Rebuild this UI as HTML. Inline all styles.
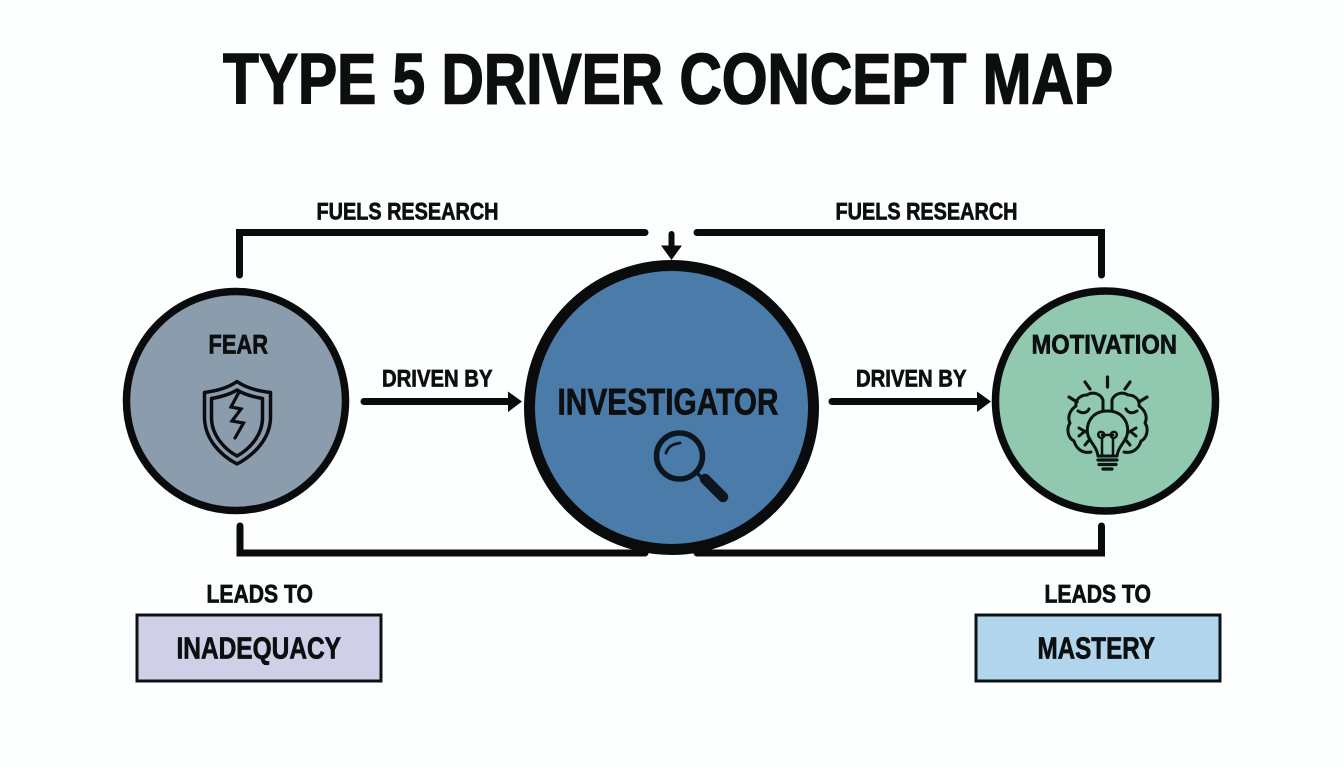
<!DOCTYPE html>
<html lang="en"><head><meta charset="utf-8"><title>Type 5 Driver Concept Map</title>
<style>html,body{margin:0;padding:0;background:#fdfefe}svg{display:block}
text{font-family:"Liberation Sans",sans-serif;font-weight:700;fill:#0c0e10;stroke:#0c0e10;stroke-width:.7px;paint-order:stroke}
text.t{stroke-width:1.6px}</style></head>
<body>
<svg width="1344" height="768" viewBox="0 0 1344 768" xmlns="http://www.w3.org/2000/svg">
<rect width="1344" height="768" fill="#fdfefe"/>
<text class="t" x="223" y="103.500" font-size="71" textLength="890" lengthAdjust="spacingAndGlyphs">TYPE 5 DRIVER CONCEPT MAP</text>

<g fill="none" stroke="#0a0b0d" stroke-width="7" stroke-linecap="round" stroke-linejoin="miter">
<path d="M239.500 275V232.500H645"/>
<path d="M697 232.500H1101.500V275"/>
<path d="M240 526V553H645"/>
<path d="M697 553H1101.500V526"/>
<path d="M671.500 234V248" stroke-width="6"/>
<path d="M364 401.500H510"/>
<path d="M832 401.500H979"/>
</g>
<g fill="#0a0b0d">
<path d="M661 245.500H682L671.500 260Z"/>
<path d="M508 391.500L522 401.500L508 412Z"/>
<path d="M977 391.500L991 401.500L977 412Z"/>
</g>

<circle cx="236" cy="401" r="109.500" fill="#8b9cad" stroke="#0a0b0d" stroke-width="7.500"/>
<circle cx="671.500" cy="407.500" r="142" fill="#4a7ba9" stroke="#0a0b0d" stroke-width="11"/>
<circle cx="1105.500" cy="401" r="110" fill="#90c9af" stroke="#0a0b0d" stroke-width="7.500"/>

<text x="316.500" y="219.500" font-size="24.500" textLength="182" lengthAdjust="spacingAndGlyphs">FUELS RESEARCH</text>
<text x="835.500" y="219.500" font-size="24.500" textLength="182" lengthAdjust="spacingAndGlyphs">FUELS RESEARCH</text>
<text x="382" y="386.500" font-size="24" textLength="110.500" lengthAdjust="spacingAndGlyphs">DRIVEN BY</text>
<text x="856" y="386.500" font-size="24" textLength="110.500" lengthAdjust="spacingAndGlyphs">DRIVEN BY</text>
<text x="208.500" y="353.500" font-size="27" textLength="59.500" lengthAdjust="spacingAndGlyphs">FEAR</text>
<text x="557.500" y="414.500" font-size="37" textLength="221" lengthAdjust="spacingAndGlyphs">INVESTIGATOR</text>
<text x="1031.500" y="353.500" font-size="27" textLength="145.500" lengthAdjust="spacingAndGlyphs">MOTIVATION</text>
<text x="206.500" y="602.500" font-size="25" textLength="106.500" lengthAdjust="spacingAndGlyphs">LEADS TO</text>
<text x="1044.500" y="602.500" font-size="25" textLength="106.500" lengthAdjust="spacingAndGlyphs">LEADS TO</text>

<rect x="137" y="615" width="244" height="66" fill="#cfcfe8" stroke="#101114" stroke-width="3"/>
<rect x="976" y="615" width="244" height="66" fill="#b1d5ed" stroke="#101114" stroke-width="3"/>
<text x="176.500" y="658.500" font-size="31" textLength="164.500" lengthAdjust="spacingAndGlyphs">INADEQUACY</text>
<text x="1037.500" y="658.500" font-size="31" textLength="117.500" lengthAdjust="spacingAndGlyphs">MASTERY</text>

<!-- shield -->
<g fill="none" stroke="#0a0c10" stroke-linejoin="round" stroke-linecap="round">
<path d="M237 381.500C228 388 216 391 204.500 392.500V418C205 439 220 455 237 464C254 455 270 439 270.500 418V392.500C258 391 246 388 237 381.500Z" stroke-width="3.500"/>
<path d="M237 390C229 395 220 397 211.500 398.500V419C212 435 224 449 237 456C250 449 262 435 262.500 419V398.500C254 397 245 395 237 390Z" stroke-width="3.500"/>
<path d="M238.500 393L231 407L241 409L232 421L243.500 423L235 438" stroke-width="3.200" stroke-linejoin="miter"/>
</g>

<!-- magnifier -->
<g fill="none" stroke="#0c1620" stroke-linecap="round">
<circle cx="679.500" cy="456" r="23" stroke-width="5.500"/>
<path d="M666 453C668 447 672 444 680 443" stroke-width="2.800"/>
<path d="M697 473L702 478" stroke-width="3.500"/>
<path d="M705 479L723 497" stroke-width="10.500"/>
</g>

<!-- brain and bulb -->
<g fill="none" stroke="#0a1412" stroke-width="3" stroke-linecap="round" stroke-linejoin="round">
<path d="M1107.500 377V387M1085 382L1090 389M1130 382L1125 389M1069 397L1077 402M1147 397L1139 402" stroke-width="3.200"/>
<path d="M1103 410V400C1101 394 1093 391 1087 395C1080 395 1075 400 1076 406C1070 410 1067 417 1070 423C1066 429 1068 438 1074 441C1076 448 1082 454 1091 452"/>
<path d="M1112 410V400C1114 394 1122 391 1128 395C1135 395 1140 400 1139 406C1145 410 1148 417 1145 423C1149 429 1147 438 1141 441C1139 448 1133 454 1124 452"/>
<path d="M1078 411C1083 414 1087 413 1089 409M1137 411C1132 414 1128 413 1126 409M1079 428L1086 432M1136 428L1129 432M1079 436L1084 432M1136 436L1131 432M1085 445L1090 439M1130 445L1125 439"/>
<path d="M1098 456C1097 448 1092 444 1089 438C1084 427 1090 411 1107.500 411C1125 411 1131 427 1126 438C1123 444 1118 448 1117 456Z"/>
<path d="M1102 456V438M1113 456V438M1102 438C1097 438 1097 431 1102 432C1105 433 1105 437 1102 438M1113 438C1118 438 1118 431 1113 432C1110 433 1110 437 1113 438M1102 435H1113" stroke-width="2.500"/>
<path d="M1098 460H1117M1099 464.500H1116M1103 469H1112" stroke-width="3.200"/>
</g>
</svg>
</body></html>
